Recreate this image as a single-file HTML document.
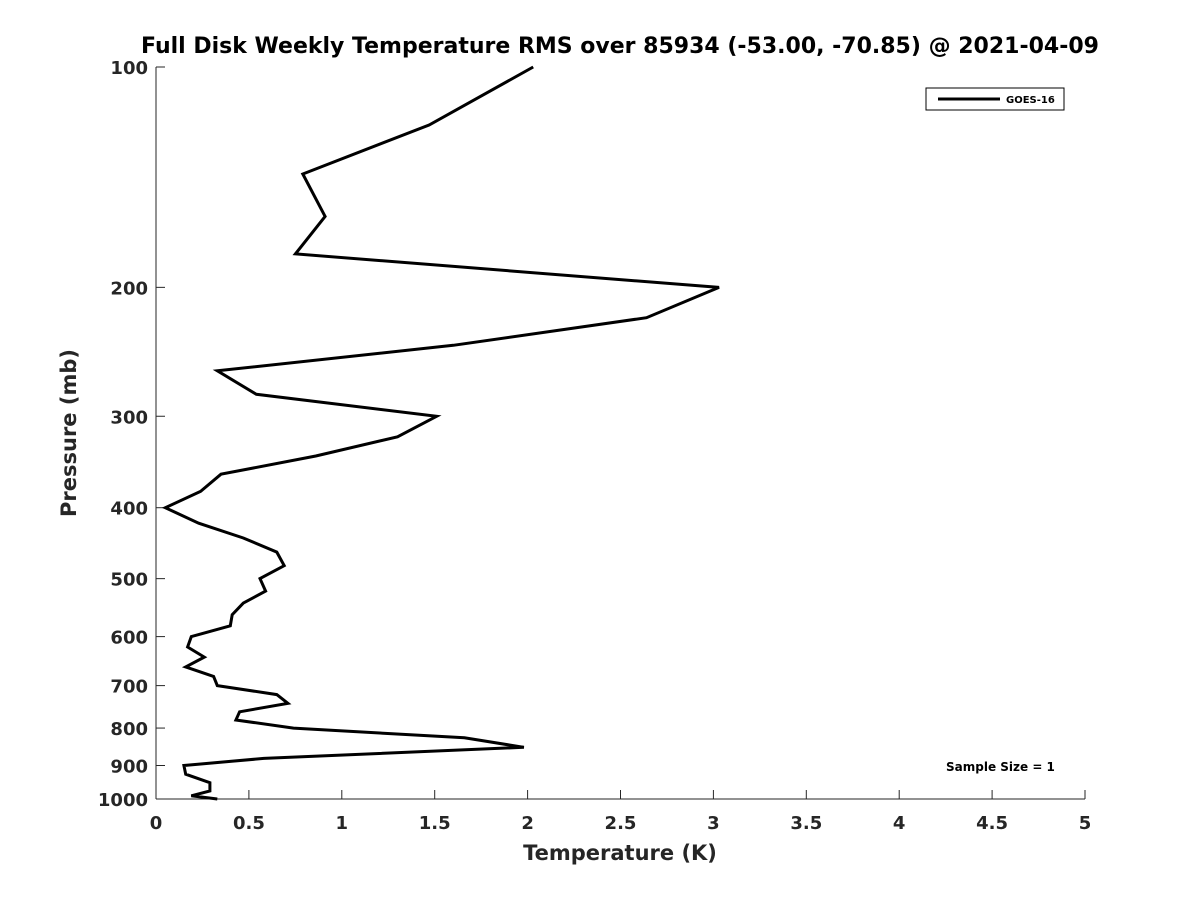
<!DOCTYPE html>
<html><head><meta charset="utf-8"><style>
body{margin:0;background:#fff;}
svg text{font-family:"DejaVu Sans","Liberation Sans",sans-serif;font-weight:bold;fill:#262626;}
</style></head><body>
<svg width="1200" height="900">
<text x="620" y="53" text-anchor="middle" font-size="22" style="fill:#000">Full Disk Weekly Temperature RMS over 85934 (-53.00, -70.85) @ 2021-04-09</text>
<g id="axes"></g>
<g id="plot"></g>
<text x="620" y="860" text-anchor="middle" font-size="21">Temperature (K)</text>
<text transform="translate(76,433) rotate(-90)" text-anchor="middle" font-size="21">Pressure (mb)</text>
<g>
<rect x="926" y="88" width="138" height="22" fill="#fff" stroke="#000" stroke-width="1"/>
<line x1="938" y1="99" x2="1000" y2="99" stroke="#000" stroke-width="3"/>
<text x="1006" y="103" font-size="10" style="fill:#000">GOES-16</text>
</g>
<text x="946" y="771" font-size="12" style="fill:#000">Sample Size = 1</text>
</svg>
<script>
const temps=[2.03,1.47,0.79,0.91,0.75,3.03,2.64,1.60,0.33,0.54,1.51,1.30,0.86,0.35,0.24,0.05,0.23,0.47,0.65,0.69,0.56,0.59,0.47,0.41,0.40,0.19,0.17,0.26,0.16,0.31,0.33,0.65,0.71,0.45,0.43,0.74,1.66,1.98,0.58,0.15,0.16,0.29,0.29,0.19,0.33];
const pressures=[100,120,140,160,180,200,220,240,260,280,300,320,340,360,380,400,420,440,460,480,500,520,540,560,580,600,620,640,660,680,700,720,740,760,780,800,825,850,880,900,925,950,975,990,1000];
const xTicks=[0,0.5,1,1.5,2,2.5,3,3.5,4,4.5,5];
const xTickLabels=["0","0.5","1","1.5","2","2.5","3","3.5","4","4.5","5"];
const yTicks=[100,200,300,400,500,600,700,800,900,1000];
const L=156,R=1085,T=67,B=799;
const xs=v=>L+(v-0)/5*(R-L);
const ys=p=>T+(Math.log10(p)-2)*(B-T);
const NS="http://www.w3.org/2000/svg";
const ax=document.getElementById('axes'),pl=document.getElementById('plot');
function mk(tag,at,par){const e=document.createElementNS(NS,tag);for(const k in at)e.setAttribute(k,at[k]);par.appendChild(e);return e;}
const xl=mk('line',{x1:L,y1:B,x2:R,y2:B,stroke:'#262626','stroke-width':1},ax);


const yl=mk('line',{x1:L,y1:T,x2:L,y2:B,stroke:'#262626','stroke-width':1},ax);


xTicks.forEach((v,i)=>{
  const x=xs(v);
  mk('line',{x1:x,y1:B,x2:x,y2:B-9,stroke:'#262626'},ax);
  const t=mk('text',{x:x,y:B+30,'text-anchor':'middle','font-size':18},ax);
  t.textContent=xTickLabels[i];
  
  
});
yTicks.forEach(p=>{
  const y=ys(p);
  mk('line',{x1:L,y1:y,x2:L+9,y2:y,stroke:'#262626'},ax);
  const t=mk('text',{x:L-8,y:y+7,'text-anchor':'end','font-size':18},ax);
  t.textContent=p;
  
  
});
const pts=temps.map((t,i)=>xs(t).toFixed(1)+','+ys(pressures[i]).toFixed(1)).join(' ');
const line=mk('polyline',{points:pts,fill:'none',stroke:'#000','stroke-width':3,'stroke-linejoin':'miter'},pl);


</script>
</body></html>
